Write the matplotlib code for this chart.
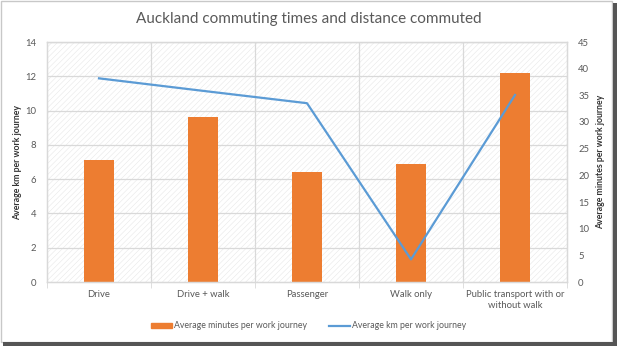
import matplotlib
matplotlib.use("Agg")
import matplotlib.pyplot as plt
from matplotlib.patches import Rectangle
from matplotlib.lines import Line2D
import numpy as np

categories = ["Drive", "Drive + walk", "Passenger", "Walk only", "Public transport with or\nwithout walk"]
minutes = [22.9, 30.9, 20.7, 22.1, 39.1]   # bars, right axis
km = [11.88, 11.15, 10.43, 1.32, 10.91]      # line, left axis
left_ticks = list(range(0, 15, 2))
right_ticks = list(range(0, 46, 5))

plt.rcParams['font.family'] = ['Lato', 'DejaVu Sans']
plt.rcParams['hatch.linewidth'] = 0.4
gray = "#595959"
grid_c = "#d9d9d9"

fig = plt.figure(figsize=(6.17, 3.46), dpi=100)
ax = fig.add_axes([47/617, 1-282/346, 520/617, 240/346])
ax2 = ax.twinx()

x = np.arange(len(categories))
ax.set_xlim(-0.5, len(categories)-0.5)
ax.set_ylim(0, 14)
ax2.set_ylim(0, 45)

# hatched background (on the bottom axes)
ax2.add_patch(Rectangle((0, 0), 1, 1, transform=ax2.transAxes, facecolor="white",
                        edgecolor="#e8e8e8", hatch="//////", linewidth=0, zorder=0))

# gridlines behind bars, drawn in the left-axis data coordinates
for t in left_ticks[1:]:
    ax2.plot([0, 1], [t, t], transform=ax.get_yaxis_transform(), color=grid_c, lw=0.9, zorder=1)
for b in np.arange(0.5, len(categories)-1, 1):
    ax2.axvline(b, color=grid_c, lw=0.9, zorder=1)

ax2.bar(x, minutes, width=0.285, color="#ED7D31", zorder=2)
ax.plot(x, km, color="#5B9BD5", lw=1.6, zorder=5)
ax.set_zorder(ax2.get_zorder()+1)
ax.patch.set_visible(False)

ax.set_yticks(left_ticks)
ax2.set_yticks(right_ticks)
ax.set_xticks(x)
ax.set_xticklabels(categories, fontsize=6.8, color=gray, linespacing=1.3)
ax.tick_params(axis='x', length=0, pad=6)
ax.tick_params(axis='y', length=0, labelsize=6.8, labelcolor=gray, pad=8)
ax2.tick_params(axis='y', length=0, labelsize=6.8, labelcolor=gray, pad=8)
ax.set_xticks(np.arange(-0.5, len(categories), 1), minor=True)
ax.tick_params(axis='x', which='minor', length=4, color=grid_c)

for a in (ax, ax2):
    for s in a.spines.values():
        s.set_color(grid_c)
        s.set_linewidth(0.9)

ax.set_ylabel("Average km per work journey", fontsize=6.3, fontweight='bold', color="#333333", labelpad=2)
ax2.set_ylabel("Average minutes per work journey", fontsize=6.3, fontweight='bold', color="#333333",
               rotation=90, labelpad=5)

fig.text(0.5, 1-19/346, "Auckland commuting times and distance commuted", ha='center', va='center',
         fontsize=11, color=gray)

handles = [Rectangle((0, 0), 1, 1, color="#ED7D31"), Line2D([], [], color="#5B9BD5", lw=1.6)]
fig.legend(handles, ["Average minutes per work journey", "Average km per work journey"],
           loc='center', bbox_to_anchor=(0.5, 1-326/346), ncol=2, frameon=False,
           fontsize=6.3, labelcolor=gray, handlelength=2.4, handleheight=0.6, columnspacing=2.5,
           handletextpad=0.2)

# frame with shadow
fig.patches.append(Rectangle((1/617, 4/346), 611/617, 341/346, transform=fig.transFigure,
                             fill=False, edgecolor="#c8c8c8", lw=1.0))
fig.patches.append(Rectangle((613/617, 0), 4/617, 343/346, transform=fig.transFigure,
                             facecolor="#555555", edgecolor='none'))
fig.patches.append(Rectangle((3/617, 0), 614/617, 4/346, transform=fig.transFigure,
                             facecolor="#555555", edgecolor='none'))

fig.savefig("out.png", dpi=100)
